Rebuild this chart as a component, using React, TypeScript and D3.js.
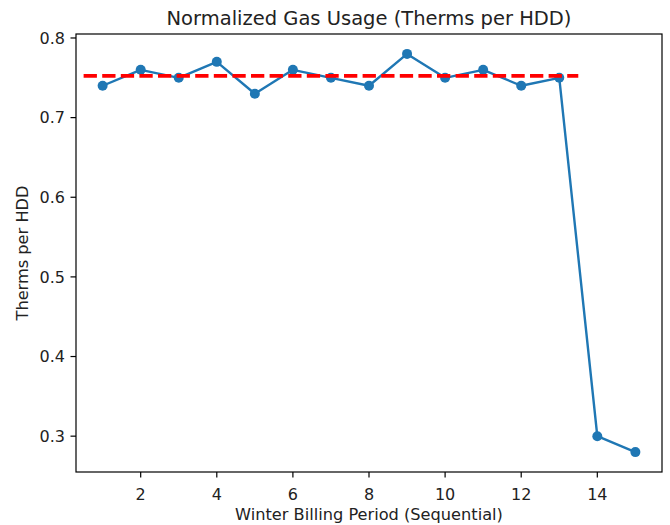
import React from "react";
import * as d3 from "d3";

const periods = [1, 2, 3, 4, 5, 6, 7, 8, 9, 10, 11, 12, 13, 14, 15];
const usage = [0.74, 0.76, 0.75, 0.77, 0.73, 0.76, 0.75, 0.74, 0.78, 0.75, 0.76, 0.74, 0.75, 0.3, 0.28];
const baselineCount = 13;
const xTicks = [2, 4, 6, 8, 10, 12, 14];
const yTicks = [0.3, 0.4, 0.5, 0.6, 0.7, 0.8];
const title = "Normalized Gas Usage (Therms per HDD)";
const xLabel = "Winter Billing Period (Sequential)";
const yLabel = "Therms per HDD";

const W = 670;
const H = 525;
const M = { left: 76, right: 662, top: 34, bottom: 472 };

export default function App() {
  const xMin = d3.min(periods)!;
  const xMax = d3.max(periods)!;
  const xPad = (xMax - xMin) * 0.05;
  const yMin = d3.min(usage)!;
  const yMax = d3.max(usage)!;
  const yPad = (yMax - yMin) * 0.05;
  const x = d3.scaleLinear().domain([xMin - xPad, xMax + xPad]).range([M.left, M.right]);
  const y = d3.scaleLinear().domain([yMin - yPad, yMax + yPad]).range([M.bottom, M.top]);
  const baseline = d3.mean(usage.slice(0, baselineCount))!;
  const line = d3.line<number>().x((_, i) => x(periods[i])).y((d) => y(d));
  const font = "DejaVu Sans, sans-serif";
  const tickFs = 16;
  return (
    <svg width={W} height={H} style={{ position: "absolute", left: 0, top: 0, background: "#fff" }} fontFamily={font}>
      <rect x={0} y={0} width={W} height={H} fill="#fff" />
      <path d={line(usage)!} fill="none" stroke="#1f77b4" strokeWidth={2.4} strokeLinejoin="round" />
      {usage.map((d, i) => (
        <circle key={i} cx={x(periods[i])} cy={y(d)} r={5} fill="#1f77b4" />
      ))}
      <line
        x1={x(0.5)}
        x2={x(baselineCount + 0.5)}
        y1={y(baseline)}
        y2={y(baseline)}
        stroke="#ff0000"
        strokeWidth={3.8}
        strokeDasharray="13.3,5.3"
      />
      <rect x={M.left} y={M.top} width={M.right - M.left} height={M.bottom - M.top} fill="none" stroke="#000" strokeWidth={1.2} />
      {xTicks.map((t) => (
        <g key={t}>
          <line x1={x(t)} x2={x(t)} y1={M.bottom} y2={M.bottom + 5.5} stroke="#000" strokeWidth={1.2} />
          <text x={x(t)} y={M.bottom + 28} textAnchor="middle" fontSize={tickFs} fill="#222">
            {t}
          </text>
        </g>
      ))}
      {yTicks.map((t) => (
        <g key={t}>
          <line x1={M.left - 5.5} x2={M.left} y1={y(t)} y2={y(t)} stroke="#000" strokeWidth={1.2} />
          <text x={M.left - 11} y={y(t)} dy="0.36em" textAnchor="end" fontSize={tickFs} fill="#222">
            {d3.format(".1f")(t)}
          </text>
        </g>
      ))}
      <text x={(M.left + M.right) / 2} y={25} textAnchor="middle" fontSize={19.5} fill="#222">
        {title}
      </text>
      <text x={(M.left + M.right) / 2} y={520} textAnchor="middle" fontSize={16.2} fill="#222">
        {xLabel}
      </text>
      <text transform={`translate(28,${(M.top + M.bottom) / 2}) rotate(-90)`} textAnchor="middle" fontSize={16.2} fill="#222">
        {yLabel}
      </text>
    </svg>
  );
}
